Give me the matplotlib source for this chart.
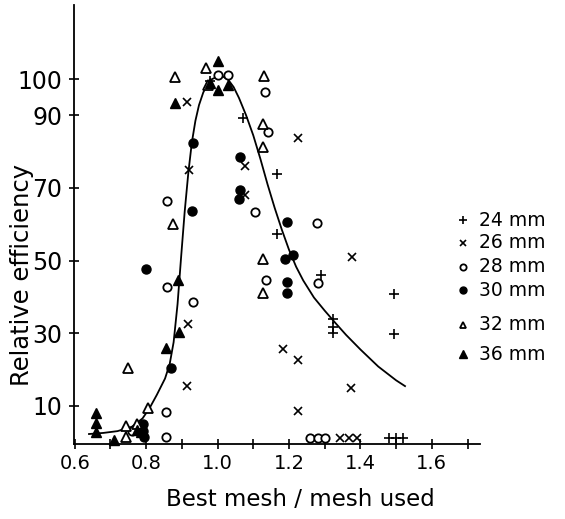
import matplotlib
matplotlib.use("Agg")
import matplotlib.pyplot as plt
from matplotlib.lines import Line2D

# ---- data ----
p24_x = [0.98, 1.07, 1.167, 1.167, 1.29, 1.324, 1.324, 1.324, 1.495, 1.495, 1.48, 1.50, 1.52]
p24_y = [99.5, 89.3, 73.8, 57.3, 46.0, 33.8, 31.7, 30.0, 40.8, 29.7, 1.0, 1.0, 1.0]

p26_x = [0.915, 0.92, 0.917, 0.914, 1.077, 1.077, 1.225, 1.377, 1.184, 1.225, 1.225, 1.374, 1.343, 1.368, 1.39]
p26_y = [93.7, 75.0, 32.5, 15.4, 76.0, 68.0, 83.7, 51.0, 25.6, 22.6, 8.5, 15.0, 1.0, 1.0, 1.0]

p28_x = [1.0, 1.03, 1.133, 1.14, 0.858, 0.858, 0.932, 1.136, 1.279, 1.28, 1.105, 0.857, 0.857, 1.26, 1.28, 1.30, 0.76]
p28_y = [101.0, 101.0, 96.4, 85.5, 66.4, 42.7, 38.6, 44.6, 60.3, 43.8, 63.4, 8.3, 1.4, 1.0, 1.0, 1.0, 3.0]

p30_x = [0.93, 0.929, 1.063, 1.063, 1.06, 1.195, 1.19, 1.21, 1.195, 1.195, 0.80, 0.87, 0.79, 0.79, 0.795]
p30_y = [82.4, 63.6, 78.5, 69.4, 67.0, 60.6, 50.4, 51.5, 44.0, 41.0, 47.7, 20.4, 5.0, 3.0, 1.5]

p32_x = [0.75, 0.745, 0.745, 0.775, 0.805, 0.875, 0.88, 0.968, 0.973, 1.13, 1.128, 1.128, 1.128, 1.128]
p32_y = [20.5, 4.5, 1.5, 5.0, 9.5, 60.0, 100.5, 103.0, 98.3, 100.8, 87.6, 81.3, 50.5, 41.0]

p36_x = [0.88, 1.0, 1.0, 1.03, 0.98, 0.89, 0.893, 0.856, 0.66, 0.66, 0.66, 0.71, 0.775, 0.785]
p36_y = [93.3, 105.0, 97.0, 98.3, 99.0, 44.6, 30.3, 26.0, 8.0, 5.2, 2.8, 0.5, 3.3, 2.8]

curve_x = [0.64, 0.68, 0.72, 0.76, 0.79, 0.81, 0.83, 0.853, 0.866, 0.877, 0.888, 0.898,
           0.908, 0.918, 0.928, 0.938, 0.948, 0.96, 0.972, 0.985, 1.0, 1.015, 1.03,
           1.045, 1.06, 1.08, 1.1, 1.12, 1.14, 1.16, 1.18, 1.2, 1.22, 1.24, 1.27,
           1.3, 1.33, 1.36, 1.4, 1.45, 1.5, 1.525]
curve_y = [2.2, 2.5, 3.0, 4.2, 6.5, 9.4, 13.0, 17.5, 21.5, 27.5, 38.0, 51.0,
           63.5, 74.0, 82.5, 88.5, 92.8, 96.3, 98.6, 100.0, 100.7, 100.7, 99.8,
           97.8, 94.8, 90.0, 84.5, 78.0, 71.0, 64.5, 58.5, 53.0, 48.3, 44.5, 39.8,
           36.2, 32.8, 29.5, 25.5, 20.8, 17.0, 15.4]

x_ticks = [0.6, 0.8, 1.0, 1.2, 1.4, 1.6]
x_ticklabels = ["0.6", "0.8", "1.0", "1.2", "1.4", "1.6"]
x_minor = [0.7, 0.9, 1.1, 1.3, 1.5, 1.7]
y_ticks = [10, 30, 50, 70, 90, 100]
legend_labels = ["24 mm", "26 mm", "28 mm", "30 mm", "32 mm", "36 mm"]

W, H = 565, 519
fig = plt.figure(figsize=(W / 100, H / 100), dpi=100)
ax = fig.add_axes([74 / W, 75 / H, (480 - 74) / W, (444 - 5) / H])
ax.set_xlim(0.598, 1.735)
ax.set_ylim(-0.55, 120.4)

ax.plot(curve_x, curve_y, color="black", lw=1.3, zorder=2)

ms = 6
series = [
    (p24_x, p24_y, dict(marker="+", color="black", ms=ms + 1, mew=1.2, ls="none")),
    (p26_x, p26_y, dict(marker="x", color="black", ms=ms, mew=1.2, ls="none")),
    (p28_x, p28_y, dict(marker="o", mfc="white", mec="black", ms=ms, mew=1.3, ls="none")),
    (p30_x, p30_y, dict(marker="o", mfc="black", mec="black", ms=ms + 0.5, ls="none")),
    (p32_x, p32_y, dict(marker="^", mfc="white", mec="black", ms=ms + 0.5, mew=1.3, ls="none")),
    (p36_x, p36_y, dict(marker="^", mfc="black", mec="black", ms=ms + 1, ls="none")),
]
for xs, ys, kw in series:
    ax.plot(xs, ys, zorder=3, clip_on=False, **kw)

for s in ["top", "right"]:
    ax.spines[s].set_visible(False)
for s in ["left", "bottom"]:
    ax.spines[s].set_linewidth(1.3)

ax.set_xticks(x_ticks)
ax.set_xticklabels(x_ticklabels)
ax.set_xticks(x_minor, minor=True)
ax.set_yticks(y_ticks)
ax.tick_params(axis="both", which="both", direction="inout", length=7, width=1.2, pad=4)
ax.tick_params(axis="x", labelsize=14)
ax.tick_params(axis="y", labelsize=17, pad=5)

fig.text(300 / W, 1 - 500 / H, "Best mesh / mesh used", fontsize=16.5,
         ha="center", va="center")
fig.text(22 / W, 1 - 275 / H, "Relative efficiency", fontsize=17.5, rotation=90,
         ha="center", va="center")

# legend drawn at right
leg_y = [220, 243, 267, 290, 325, 354]
for (xs, ys, kw), lab, py in zip(series, legend_labels, leg_y):
    yf = 1 - py / H
    kw2 = dict(kw)
    kw2["ms"] = kw["ms"] - 1.5
    fig.add_artist(Line2D([463 / W], [yf], transform=fig.transFigure, **kw2))
    fig.text(479 / W, yf, lab, fontsize=13.5, va="center", ha="left")

fig.savefig("out.png", dpi=100, facecolor="white")
